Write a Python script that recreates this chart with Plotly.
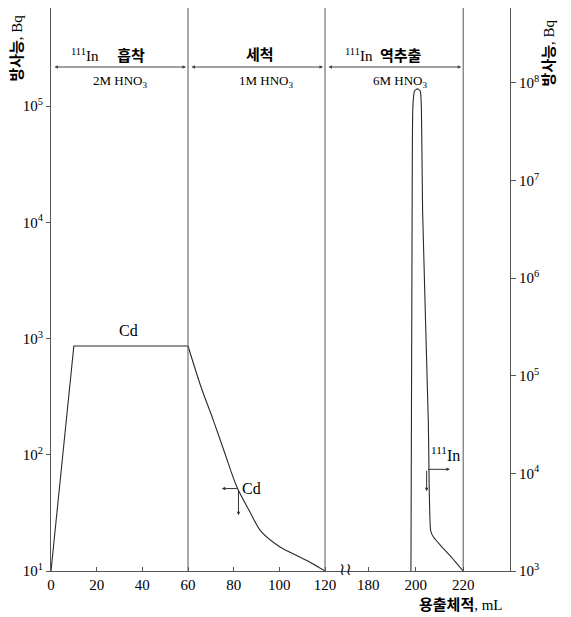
import plotly.graph_objects as go

# ---- data (real elution volume, mL) ----
cd_x = [0, 10, 60, 65.7, 71.1, 76.2, 81.4, 87.5, 91.6, 100.3, 106.9, 113.4, 120]
cd_y = [10, 863, 863, 383, 198, 102, 52.8, 31.2, 22.4, 16.1, 13.8, 11.9, 10]

in_x = [198.0, 198.5, 198.8, 199.5, 200.7, 201.9, 202.4, 202.9, 205.3, 206.3, 207.4, 210.9, 215.1, 220]
in_y = [1e3, 5.0e6, 5.6e7, 8.3e7, 8.7e7, 8.3e7, 5.6e7, 5.0e6, 3.5e4, 2.6e3, 2.24e3, 1.78e3, 1.38e3, 1e3]

x_ticks = [0, 20, 40, 60, 80, 100, 120, 180, 200, 220]
left_ticks = [1e1, 1e2, 1e3, 1e4, 1e5]
left_text = ["10<sup>1</sup>", "10<sup>2</sup>", "10<sup>3</sup>", "10<sup>4</sup>", "10<sup>5</sup>"]
right_ticks = [1e3, 1e4, 1e5, 1e6, 1e7, 1e8]
right_text = ["10<sup>3</sup>", "10<sup>4</sup>", "10<sup>5</sup>", "10<sup>6</sup>",
              "10<sup>7</sup>", "10<sup>8</sup>"]

sections = [(0, 60), (60, 120), (120, 220)]


def to_axis(x):
    """broken axis: 120..180 gap compressed"""
    return x if x <= 120 else 138.9 + (x - 180) * 1.04


SERIF = "Liberation Serif, Noto Sans CJK KR"
LC = "#555555"
CURVE = "#2a2a2a"

fig = go.Figure()
# Cd: sharp corners on the plateau, smooth decay
fig.add_trace(go.Scatter(x=[to_axis(v) for v in cd_x[:3]], y=cd_y[:3], mode="lines",
                         line=dict(color=CURVE, width=1.1), yaxis="y",
                         showlegend=False, hoverinfo="skip"))
fig.add_trace(go.Scatter(x=[to_axis(v) for v in cd_x[2:]], y=cd_y[2:], mode="lines",
                         line=dict(color=CURVE, width=1.1, shape="spline", smoothing=0.8),
                         yaxis="y", showlegend=False, hoverinfo="skip"))
fig.add_trace(go.Scatter(x=[to_axis(v) for v in in_x], y=in_y, mode="lines",
                         line=dict(color=CURVE, width=1.1, shape="spline", smoothing=0.5),
                         yaxis="y2", showlegend=False, hoverinfo="skip"))

# section dividers
for xv in [60, 120, 220]:
    fig.add_shape(type="line", xref="x", yref="paper", x0=to_axis(xv), x1=to_axis(xv),
                  y0=0, y1=1, line=dict(color=LC, width=1))

# double-headed arrows along the top
ARROW_Y = 5.337
for a, b in sections:
    fig.add_annotation(x=to_axis(b), y=ARROW_Y, ax=to_axis(a), ay=ARROW_Y,
                       xref="x", yref="y", axref="x", ayref="y", text="",
                       showarrow=True, arrowhead=2, startarrowhead=2, arrowside="end+start",
                       arrowsize=0.7, startarrowsize=0.7, arrowwidth=1, arrowcolor="#444",
                       standoff=2, startstandoff=2)


def label(x, y, text, size=14, xref="x", family=SERIF, angle=0, color="black"):
    fig.add_annotation(x=x, y=y, xref=xref, yref="paper", text=text, showarrow=False,
                       xanchor="center", yanchor="middle", textangle=angle,
                       font=dict(family=family, size=size, color=color))


label(24.8, 0.916, "<sup>111</sup>In     <b>흡착</b>", 15)
label(30.3, 0.869, "2M HNO<sub>3</sub>", 13)
label(91.5, 0.916, "<b>세척</b>", 15)
label(94.2, 0.869, "1M HNO<sub>3</sub>", 13)
label(145.8, 0.916, "<sup>111</sup>In  <b>역추출</b>", 15)
label(152.9, 0.869, "6M HNO<sub>3</sub>", 13)

label(33.8, 0.4275, "Cd", 16)
label(87.6, 0.147, "Cd", 16)
label(172.9, 0.2085, "<sup>111</sup>In", 16)


def arrow(x, y, ax, ay):
    fig.add_annotation(x=x, y=y, xref="x", yref="paper", ax=ax, ay=ay, text="",
                       showarrow=True, arrowhead=2, arrowsize=0.7, arrowwidth=1,
                       arrowcolor="#333")


arrow(74.8, 0.1464, 16.6, 0)
arrow(82.1, 0.0989, 0, -26.7)
arrow(174.7, 0.1806, -23.3, 0)
arrow(164.5, 0.1416, 0, -22)

# axis break mark
label(129.0, 0.004, "≀≀", 17, family="DejaVu Sans", color="#222")

# axis titles
label(-0.074, 0.928, "<b>방사능</b>, Bq", 15, xref="paper", angle=-90)
label(1.087, 0.921, "<b>방사능</b>, Bq", 15, xref="paper", angle=-90)
label(0.893, -0.061, "<b>용출체적</b>, mL", 15, xref="paper")

# page body has an 8px margin: shift the figure so the plot lands where the reference has it
fig.update_layout(
    width=563, height=609,
    margin=dict(l=43, r=61, t=0, b=46),
    plot_bgcolor="white", paper_bgcolor="white",
    showlegend=False,
    font=dict(family=SERIF, size=15, color="black"),
    xaxis=dict(range=[0, 201], tickvals=[to_axis(v) for v in x_ticks],
               ticktext=[str(v) for v in x_ticks], ticks="inside", ticklen=4,
               tickcolor=LC, showline=True, linecolor=LC, linewidth=1, mirror=True,
               showgrid=False, zeroline=False, tickfont=dict(size=15)),
    yaxis=dict(type="log", range=[1, 5.845], tickvals=left_ticks, ticktext=left_text,
               ticks="outside", ticklen=4, tickcolor=LC, showline=True, linecolor=LC,
               linewidth=1, showgrid=False, zeroline=False, tickfont=dict(size=15)),
    yaxis2=dict(type="log", range=[3, 8.768], overlaying="y", side="right",
                tickvals=right_ticks, ticktext=right_text, ticks="outside", ticklen=5,
                tickcolor=LC, showline=True, linecolor=LC, linewidth=1,
                showgrid=False, zeroline=False, tickfont=dict(size=15)),
)

fig.write_html("out.html")
